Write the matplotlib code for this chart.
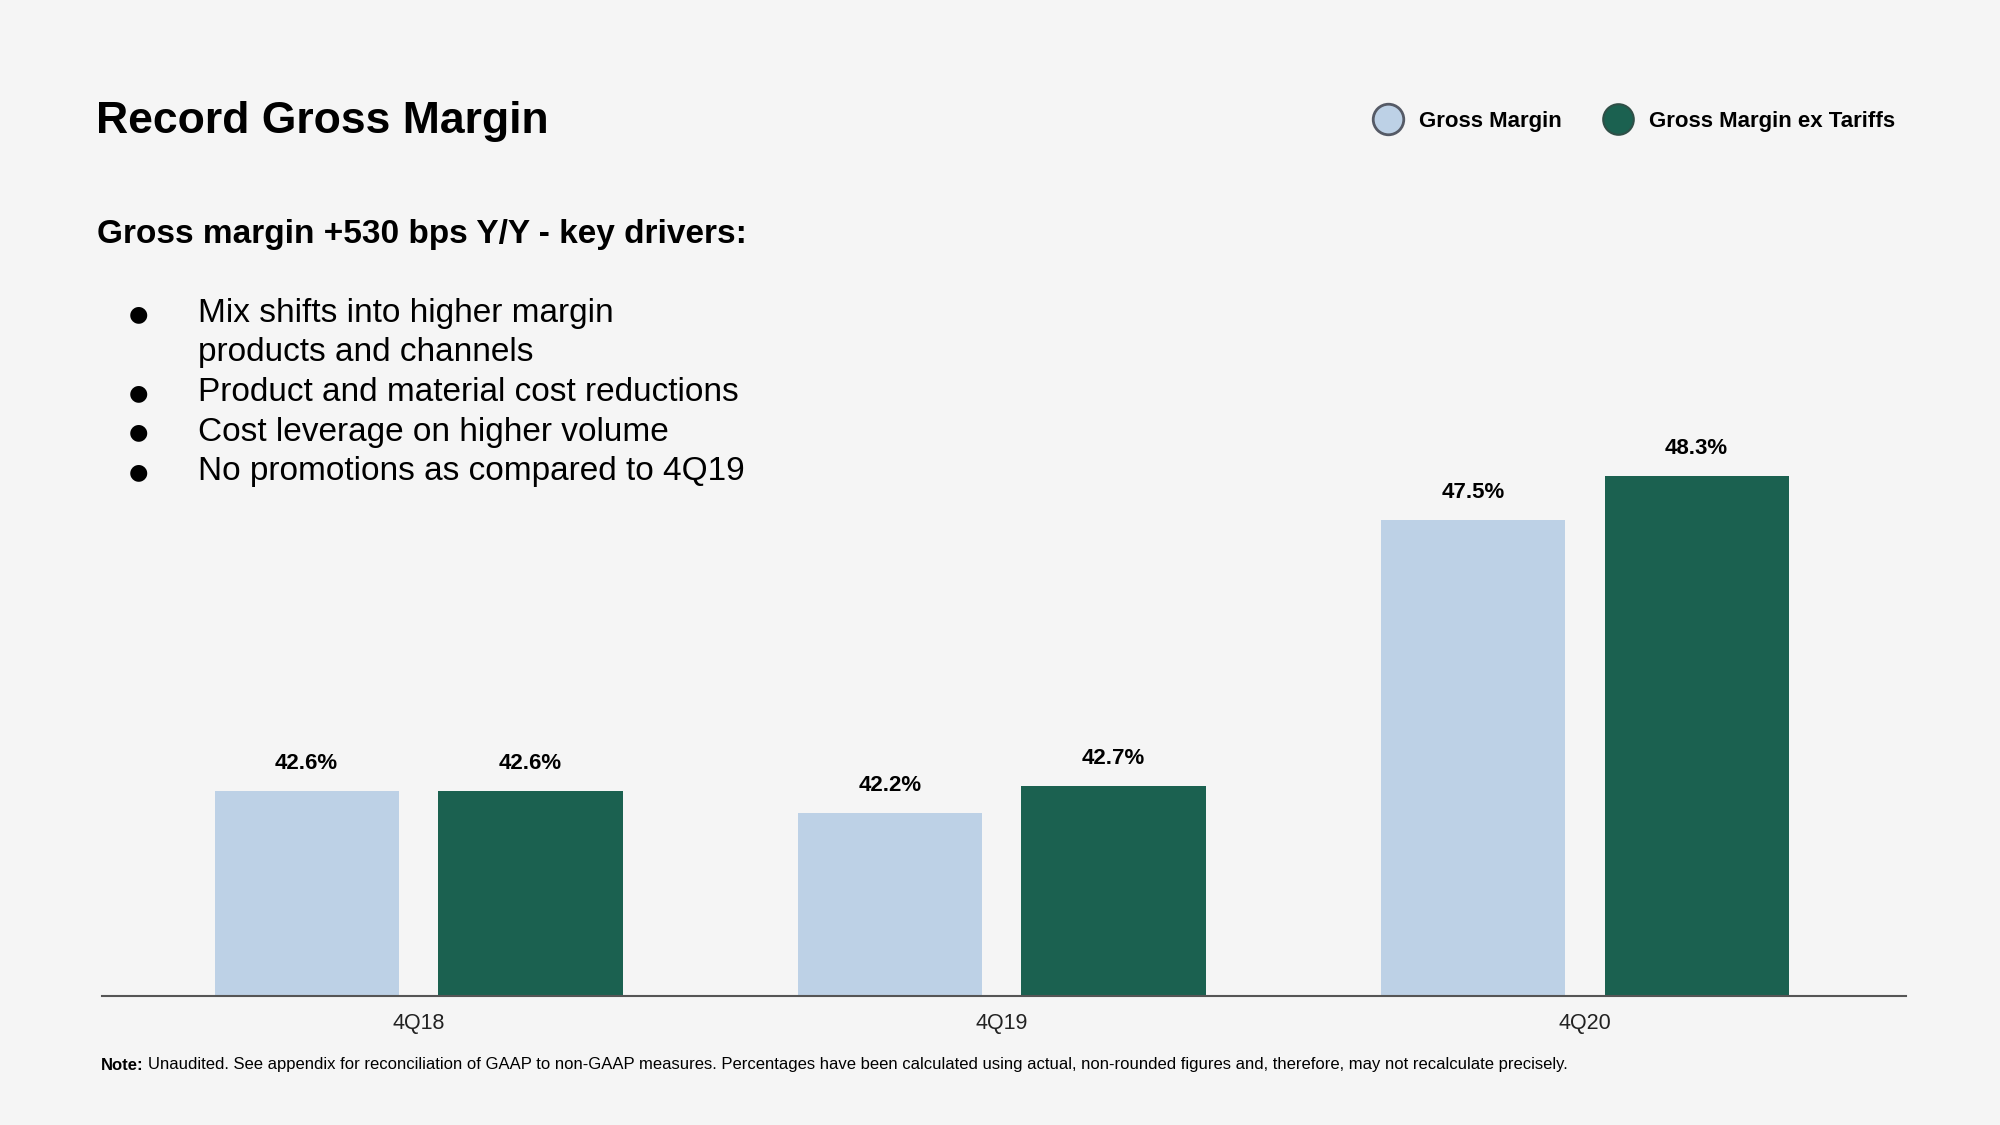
import matplotlib.pyplot as plt
from matplotlib.lines import Line2D
import numpy as np

plt.rcParams['font.family'] = ['Liberation Sans', 'DejaVu Sans']

quarters = ['4Q18', '4Q19', '4Q20']
gross_margin = [42.6, 42.2, 47.5]
gross_margin_ex_tariffs = [42.6, 42.7, 48.3]
series_names = ['Gross Margin', 'Gross Margin ex Tariffs']

title = 'Record Gross Margin'
subtitle = 'Gross margin +530 bps Y/Y - key drivers:'
bullets = ['Mix shifts into higher margin\nproducts and channels',
           'Product and material cost reductions',
           'Cost leverage on higher volume',
           'No promotions as compared to 4Q19']
note = ('Unaudited. See appendix for reconciliation of GAAP to non-GAAP measures. '
        'Percentages have been calculated using actual, non-rounded figures and, therefore, may not recalculate precisely.')

bg = '#F5F5F5'
light = '#BDD1E6'
dark = '#1B6150'

W, H = 2000, 1125
fig = plt.figure(figsize=(20, 11.25), dpi=100, facecolor=bg)

# axes placed in pixel space of the slide
ax_left, ax_right, ax_bottom, ax_top = 102, 1906, 996, 382
ax = fig.add_axes([ax_left / W, 1 - ax_bottom / H, (ax_right - ax_left) / W, (ax_bottom - ax_top) / H])
ax.set_facecolor(bg)

x = np.arange(len(quarters))
width = 0.316
offset = 0.192
b1 = ax.bar(x - offset, gross_margin, width, color=light)
b2 = ax.bar(x + offset, gross_margin_ex_tariffs, width, color=dark)

for bars, vals in ((b1, gross_margin), (b2, gross_margin_ex_tariffs)):
    for rect, v in zip(bars, vals):
        ax.annotate(f'{v:.1f}%', (rect.get_x() + rect.get_width() / 2, v),
                    xytext=(0, 20), textcoords='offset points',
                    ha='center', va='center', fontsize=16, fontweight='bold')

ax.set_ylim(38.9, 50)
ax.set_xlim(-0.543, 2.551)
ax.set_xticks(x)
ax.set_xticklabels(quarters, fontsize=15.5, color='#222222')
ax.tick_params(axis='x', length=0, pad=12)
ax.set_yticks([])
for s in ['top', 'right', 'left']:
    ax.spines[s].set_visible(False)
ax.spines['bottom'].set_color('#555555')
ax.spines['bottom'].set_linewidth(1.5)

# text blocks
fig.text(96 / W, 1 - 133 / H, title, fontsize=32, fontweight='bold', va='baseline')
fig.text(97 / W, 1 - 243 / H, subtitle, fontsize=24, fontweight='bold', va='baseline')

y = 322
for b in bullets:
    fig.text(138 / W, 1 - (y - 2) / H, '\u25CF', fontsize=16, ha='center', va='baseline',
             family=['DejaVu Sans'])
    for ln in b.split('\n'):
        fig.text(198 / W, 1 - y / H, ln, fontsize=24, va='baseline')
        y += 39.5

fig.text(101 / W, 1 - 1065 / H, 'Note:', fontsize=12, fontweight='bold', va='center')
fig.text(148 / W, 1 - 1065 / H, note, fontsize=12, va='center')

handles = [Line2D([], [], marker='o', linestyle='', markersize=22, markerfacecolor=light,
                  markeredgecolor='#555a66', markeredgewidth=2),
           Line2D([], [], marker='o', linestyle='', markersize=22, markerfacecolor=dark,
                  markeredgecolor='#2f4f47', markeredgewidth=1.5)]
fig.legend(handles, series_names, loc='center right', bbox_to_anchor=(1915 / W, 1 - 121 / H),
           ncol=2, frameon=False, handletextpad=0.4, columnspacing=1.5,
           prop={'weight': 'bold', 'size': 16})

fig.savefig('out.png', dpi=100, facecolor=bg)
